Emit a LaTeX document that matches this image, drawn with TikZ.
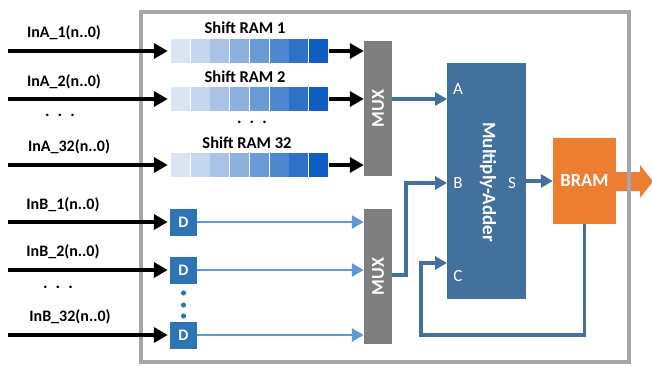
\documentclass[tikz,border=0pt]{standalone}
\usepackage{fontspec}
\setmainfont{Carlito}
\usetikzlibrary{arrows.meta,calc}
\definecolor{framegray}{HTML}{A6A6A6}
\definecolor{muxgray}{HTML}{7F7F7F}
\definecolor{mablue}{HTML}{41719C}
\definecolor{dblue}{HTML}{2E75B6}
\definecolor{lblue}{HTML}{5B9BD5}
\definecolor{bramorange}{HTML}{ED7D31}
\definecolor{c1}{HTML}{DAE5F4}
\definecolor{c2}{HTML}{C5D7EE}
\definecolor{c3}{HTML}{A9C3E7}
\definecolor{c4}{HTML}{8DB1DF}
\definecolor{c5}{HTML}{6A9AD6}
\definecolor{c6}{HTML}{4F88D0}
\definecolor{c7}{HTML}{2D72C8}
\definecolor{c8}{HTML}{0D5DC2}
\tikzset{
  inarrow/.style={line width=3.8pt, black, -{Triangle[length=14pt,width=15pt]}},
  lbarrow/.style={line width=2.8pt, lblue, -{Triangle[length=12pt,width=13pt]}},
  maarrow/.style={line width=3.4pt, mablue, -{Triangle[length=12pt,width=13pt]}},
  lab/.style={font=\fontsize{16}{18}\selectfont\bfseries, black},
  ramlab/.style={font=\fontsize{16.5}{18}\selectfont\bfseries, black},
  dots/.style={font=\fontsize{17}{18}\selectfont\bfseries, black},
  rambox/.style={minimum width=158pt, minimum height=24pt, inner sep=0pt},
  muxbox/.style={fill=muxgray, minimum width=28pt, minimum height=135pt, inner sep=0pt},
  muxtext/.style={rotate=90, text=white, font=\fontsize{18}{20}\selectfont\bfseries},
  dbox/.style={fill=dblue, text=white, minimum width=27pt, minimum height=27pt, inner sep=0pt, font=\fontsize{16}{18}\selectfont\bfseries},
  port/.style={text=white, font=\fontsize{17}{19}\selectfont},
}
\begin{document}
\begin{tikzpicture}[x=1pt,y=-1pt]
\useasboundingbox (0,0) rectangle (652,366);
\fill[white] (0,0) rectangle (652,366);

% BRAM and output arrow (under the frame)
\node[fill=bramorange, minimum width=63pt, minimum height=86pt, inner sep=0pt] (bram) at (584.5,181) {};
\fill[bramorange] (bram.east |- 0,172) -- (640,172) -- (640,165) -- (653,181.5) -- (640,198) -- (640,191) -- (bram.east |- 0,191) -- cycle;
\node[text=white, font=\fontsize{18.5}{20}\selectfont\bfseries] (bramt) at (bram) {BRAM};

% frame
\draw[framegray, line width=4.5pt] (141,12) rectangle (629,362);

% Shift RAMs
\foreach \n/\y in {1/51, 2/99, 32/165}{
  \node[rambox] (ram\n) at (250,\y) {};
  \foreach \i in {1,...,8}{
    \fill[c\i] ($(ram\n.south west)+(\i*19.75-19.75,0)$) rectangle ($(ram\n.north west)+(\i*19.75-0.6,0)$);
  }
}
\node[ramlab] (rl1) at (245,28) {Shift RAM 1};
\node[ramlab] (rl2) at (245,77) {Shift RAM 2};
\node[ramlab] (rl32) at (247,143) {Shift RAM 32};
\node[dots] (rdots) at (252,122) {.\hspace{8pt}.\hspace{8pt}.};

% MUXes
\node[muxbox] (mux1) at (378,108.5) {};
\node[muxtext] (mux1t) at (mux1) {MUX};
\node[muxbox] (mux2) at (378,276.5) {};
\node[muxtext] (mux2t) at (mux2) {MUX};

% Input A
\foreach \n/\y in {1/51, 2/99, 32/165}{
  \coordinate (ina\n) at (8,\y);
  \draw[inarrow, shorten >=3pt] (ina\n) -- (ram\n.west);
  \draw[inarrow, shorten >=0pt] (ram\n.east) -- (mux1.west |- ram\n.east);
}
\node[lab] (la1) at (64,33) {InA\_1(n..0)};
\node[lab] (la2) at (64,82) {InA\_2(n..0)};
\node[lab] (la32) at (69,147) {InA\_32(n..0)};
\node[dots] (ladots) at (60,115) {.\hspace{8pt}.\hspace{8pt}.};

% Input B and D flip-flops
\foreach \n/\y in {1/222, 2/270, 32/335}{
  \node[dbox] (d\n) at (183.5,\y) {D};
  \coordinate (inb\n) at (8,\y);
  \draw[inarrow, shorten >=2pt] (inb\n) -- (d\n.west);
  \draw[lbarrow] (d\n.east) -- (mux2.west |- d\n.east);
}
\node[lab] (lb1) at (63,205) {InB\_1(n..0)};
\node[lab] (lb2) at (63,252) {InB\_2(n..0)};
\node[lab] (lb32) at (70,317) {InB\_32(n..0)};
\node[dots] (lbdots) at (58,287) {.\hspace{8pt}.\hspace{8pt}.};
\foreach \y in {293,305,316}{
  \fill[dblue] (183.5,\y) circle (2.6pt);
}

% Multiply-Adder
\node[fill=mablue, minimum width=79pt, minimum height=236pt, inner sep=0pt] (ma) at (486.5,181) {};
\node[rotate=-90, text=white, font=\fontsize{19}{21}\selectfont\bfseries] (mat) at (488,182) {Multiply-Adder};
\node[port] (pA) at (458,89) {A};
\node[port] (pB) at (458,183) {B};
\node[port] (pC) at (458,276) {C};
\node[port] (pS) at (512,183) {S};
\coordinate (ina) at (447,99);
\coordinate (inbb) at (447,183);
\coordinate (inc) at (447,263);

\draw[maarrow] (mux1.east |- ina) -- (ina);
\draw[maarrow] (mux2.east |- 0,275) -- (406,275) -- (406,183) -- (inbb);
\draw[maarrow] (bram.south) -- (bram.south |- 0,335) -| (421,263) -- (inc);
\draw[maarrow] (ma.east |- bram.west) -- (bram.west);
\end{tikzpicture}
\end{document}
